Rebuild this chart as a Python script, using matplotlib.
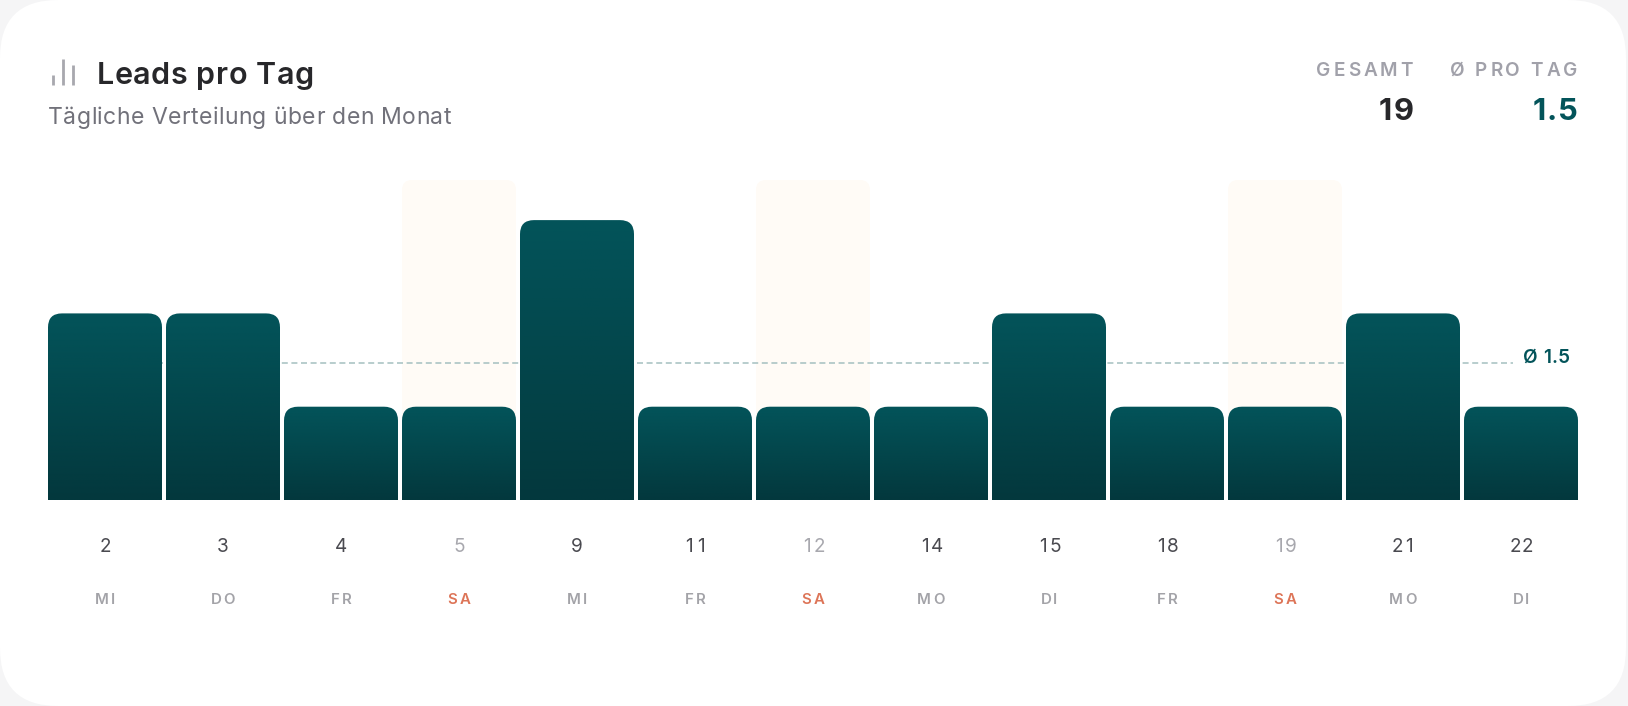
import numpy as np
import matplotlib
matplotlib.use("Agg")
import matplotlib.pyplot as plt
from matplotlib.colors import LinearSegmentedColormap
from matplotlib.font_manager import findfont, get_font
from matplotlib.ft2font import LoadFlags
from matplotlib.patches import FancyBboxPatch, PathPatch
from matplotlib.path import Path
from matplotlib.text import Text
from matplotlib.transforms import IdentityTransform, blended_transform_factory

# ---------------- DATA ----------------
DAYS = ["2", "3", "4", "5", "9", "11", "12", "14", "15", "18", "19", "21", "22"]
WEEKDAYS = ["MI", "DO", "FR", "SA", "MI", "FR", "SA", "MO", "DI", "FR", "SA", "MO", "DI"]
LEADS = [2, 2, 1, 1, 3, 1, 1, 1, 2, 1, 1, 2, 1]
AVG_LINE = 1.47
TOTAL_LABEL = "19"
AVG_LABEL = "1.5"
# --------------------------------------

W, H = 1628, 706
TEAL = "#03545a"
TEAL_DARK = "#03383d"
px = 0.72  # px -> pt at dpi 100

plt.rcParams["font.family"] = ["Inter", "DejaVu Sans"]


class SpacedText(Text):
    """Text with CSS style letter spacing (tracking in px), or a fixed digit cell."""

    def __init__(self, *args, tracking=0, cell=None, **kwargs):
        super().__init__(*args, **kwargs)
        self.tracking = tracking
        self.cell = cell

    def draw(self, renderer):
        s = self.get_text()
        font = get_font(findfont(self.get_fontproperties()))
        font.set_size(self.get_fontsize(), self.get_figure().dpi)
        adv = [font.load_char(ord(c), flags=LoadFlags.NO_HINTING).linearHoriAdvance / 65536 for c in s]
        if self.cell:
            total = self.cell * len(s)
        else:
            total = sum(adv) + self.tracking * (len(s) - 1)
        x0, y0 = self.get_transform().transform(self.get_position())
        ha = self.get_ha()
        pen = x0 - (total if ha == "right" else total / 2 if ha == "center" else 0)
        for c, a in zip(s, adv):
            glyph_x = pen + (self.cell - a) / 2 if self.cell else pen
            Text(glyph_x, y0, c, fontproperties=self.get_fontproperties(), color=self.get_color(),
                 ha="left", va="baseline", transform=IdentityTransform(),
                 figure=self.get_figure()).draw(renderer)
            pen += self.cell if self.cell else a + self.tracking


def label(target, x, y, s, size, color, weight="normal", ha="left", **kwargs):
    target.add_artist(SpacedText(x, y, s, fontsize=size * px, color=color, fontweight=weight, ha=ha,
                                 clip_on=False, **kwargs))


fig = plt.figure(figsize=(W / 100, H / 100), dpi=100, facecolor="#f5f5f6")

# page layer in pixel coords, used for the card and header
page = fig.add_axes([0, 0, 1, 1])
page.set_xlim(0, W)
page.set_ylim(H, 0)
page.axis("off")
page.add_patch(FancyBboxPatch((0, 0), 1626, 706, boxstyle="round,pad=0,rounding_size=58",
                              fc="white", ec="none", clip_on=False))

# header
for x, top in zip([53, 63, 73], [75, 59, 65]):
    page.plot([x, x], [85, top], color="#a8a8ae", lw=2.8 * px, solid_capstyle="butt")
label(page, 96.5, 83.5, "Leads pro Tag", 30.5, "#27272a", "semibold", tracking=0.6)
label(page, 48, 124, "Tägliche Verteilung über den Monat", 23, "#71717a", tracking=0.42)
label(page, 1413, 76, "GESAMT", 19, "#a1a1aa", "semibold", "right", tracking=3)
label(page, 1577, 76, "Ø PRO TAG", 19, "#a1a1aa", "semibold", "right", tracking=2.9)
label(page, 1414, 120, TOTAL_LABEL, 31, "#27272a", "bold", "right", tracking=2)
label(page, 1578, 120, AVG_LABEL, 31, TEAL, "bold", "right", tracking=1)

# chart axes: 118 px per bar, 93.3 px per lead
left, right, top, bottom = 46, 1580, 180, 500
ax = fig.add_axes([left / W, 1 - bottom / H, (right - left) / W, (bottom - top) / H])
ax.patch.set_alpha(0)
x = np.arange(len(DAYS))
ymax = (bottom - top) / 93.3
ux = 1 / 118
uy = 1 / 93.3


def rounded_top(rect, radius):
    x0, x1 = rect.get_x(), rect.get_x() + rect.get_width()
    y1 = rect.get_height()
    rx, ry = radius * ux, radius * uy
    verts = [(x0, 0), (x0, y1 - ry), (x0, y1), (x0 + rx, y1), (x1 - rx, y1), (x1, y1), (x1, y1 - ry), (x1, 0), (x0, 0)]
    codes = [Path.MOVETO, Path.LINETO, Path.CURVE3, Path.CURVE3, Path.LINETO, Path.CURVE3, Path.CURVE3, Path.LINETO, Path.CLOSEPOLY]
    return Path(verts, codes)


# weekend bands behind the bars
is_weekend = [d == "SA" for d in WEEKDAYS]
bands = ax.bar(x[is_weekend], ymax, width=114 * ux, color="none")
for rect in bands:
    ax.add_patch(PathPatch(rounded_top(rect, 10), fc="#fffbf6", ec="none", zorder=1))

# average line
ax.axhline(AVG_LINE, xmin=0.01, xmax=0.956, color="#a3bfbf", lw=1.5 * px, dashes=(4, 2.4), zorder=2)
label(ax, 0.9935, AVG_LINE, "Ø 1.5", 19, TEAL, "semibold", "right", tracking=0.3,
      transform=ax.get_yaxis_transform())

# bars with vertical gradient
cmap = LinearSegmentedColormap.from_list("bar", [TEAL, TEAL_DARK])
grad = np.linspace(0, 1, 256).reshape(-1, 1)
bars = ax.bar(x, LEADS, width=114 * ux, color="none")
for rect in bars:
    patch = PathPatch(rounded_top(rect, 14), fc="none", ec="none")
    ax.add_patch(patch)
    im = ax.imshow(grad, cmap=cmap, aspect="auto", zorder=3,
                   extent=[rect.get_x(), rect.get_x() + rect.get_width(), 0, rect.get_height()])
    im.set_clip_path(patch)

ax.set_xlim(-0.5, len(DAYS) - 0.5)
ax.set_ylim(0, ymax)
ax.set_yticks([])
ax.set_xticks([])
for side in ax.spines.values():
    side.set_visible(False)

# day numbers and weekdays, x from the data, y in page pixels
x_page = blended_transform_factory(ax.transData, page.transData)
for xi, day, wd, we in zip(x, DAYS, WEEKDAYS, is_weekend):
    label(ax, xi, 552, day, 19, "#a8a8ae" if we else "#4a4a50", ha="center", cell=12, transform=x_page)
    label(ax, xi, 604, wd, 15, "#dd7558" if we else "#a3a3a8", "semibold", "center", tracking=2, transform=x_page)

fig.savefig("out.png", dpi=100, facecolor=fig.get_facecolor())
